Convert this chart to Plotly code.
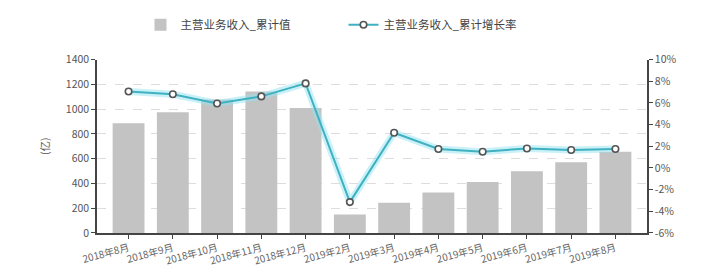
import plotly.graph_objects as go

categories = ["2018年8月", "2018年9月", "2018年10月", "2018年11月", "2018年12月",
              "2019年2月", "2019年3月", "2019年4月", "2019年5月", "2019年6月",
              "2019年7月", "2019年8月"]
revenue_cum = [885, 975, 1078, 1142, 1008, 150, 245, 327, 411, 498, 571, 656]
growth_cum = [7.05, 6.8, 5.95, 6.6, 7.8, -3.15, 3.25, 1.75, 1.5, 1.8, 1.65, 1.75]

left_ticks = [0, 200, 400, 600, 800, 1000, 1200, 1400]
right_ticks = [-6, -4, -2, 0, 2, 4, 6, 8, 10]
right_labels = [f"{v}%" for v in right_ticks]

font_family = "Noto Sans CJK SC, Noto Sans, sans-serif"

fig = go.Figure()
fig.add_trace(go.Bar(
    x=categories, y=revenue_cum, name="主营业务收入_累计值",
    marker=dict(color="#c3c3c3", line=dict(width=0)),
    yaxis="y"))
fig.add_trace(go.Scatter(
    x=categories, y=growth_cum, mode="lines", yaxis="y2",
    line=dict(color="rgba(150,228,242,0.5)", width=7),
    showlegend=False, hoverinfo="skip"))
fig.add_trace(go.Scatter(
    x=categories, y=growth_cum, name="主营业务收入_累计增长率",
    mode="lines+markers", yaxis="y2",
    line=dict(color="#3fb1c0", width=2),
    marker=dict(symbol="circle", size=6.5, color="white",
                line=dict(color="#555555", width=1.6))))

fig.update_layout(
    width=728, height=280,
    margin=dict(l=97, r=81, t=56, b=47),
    paper_bgcolor="white", plot_bgcolor="white",
    font=dict(family=font_family, size=10, color="#555555"),
    bargap=0.28,
    showlegend=True,
    legend=dict(orientation="h", x=0.193, xanchor="left", xref="container",
                y=0.86, yanchor="bottom", yref="container",
                font=dict(size=11.5, color="#444444"),
                itemwidth=30, entrywidth=158, tracegroupgap=0),
    xaxis=dict(
        type="category", showline=True, linecolor="#444444", linewidth=1.5,
        ticks="outside", ticklen=4, tickcolor="#444444", tickangle=-15,
        tickfont=dict(size=10, color="#666666"), showgrid=False),
    yaxis=dict(
        range=[0, 1400], tickvals=left_ticks, showline=True, linecolor="#444444",
        linewidth=1.5, ticks="outside", ticklen=4, tickcolor="#444444",
        showgrid=True, gridcolor="#dddddd", griddash="dash", gridwidth=1,
        zeroline=False, tickfont=dict(size=10.5, color="#555555"),
        title=dict(text="(亿)", font=dict(size=10.5, color="#555555"), standoff=14)),
    yaxis2=dict(
        range=[-6, 10], tickvals=right_ticks, ticktext=right_labels,
        overlaying="y", side="right", showline=True, linecolor="#444444",
        linewidth=1.5, ticks="outside", ticklen=4, tickcolor="#444444",
        showgrid=False, zeroline=False, tickfont=dict(size=10.5, color="#555555")),
)

fig.write_html("out.html")
